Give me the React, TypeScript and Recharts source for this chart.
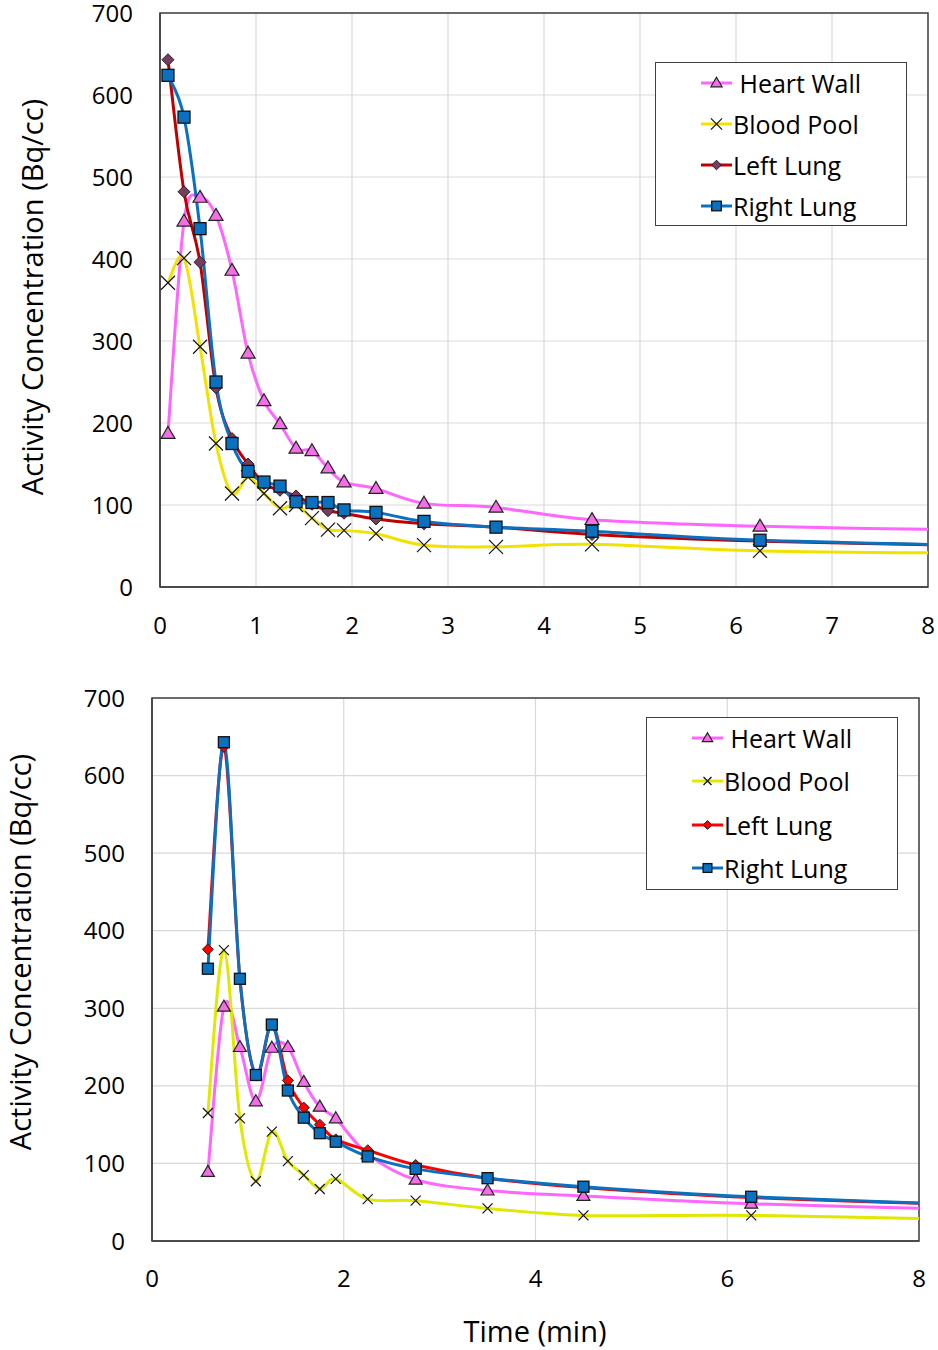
import React from "react";
import {
  LineChart,
  Line,
  XAxis,
  YAxis,
  CartesianGrid,
  ReferenceArea,
  Legend,
} from "recharts";

// ── data: frame mid-times (min) and activity (Bq/cc) ─────────────────────────
const TOP_TIME = [0.083, 0.25, 0.417, 0.583, 0.75, 0.917, 1.083, 1.25, 1.417, 1.583, 1.75, 1.917, 2.25, 2.75, 3.5, 4.5, 6.25, 8.75];
const TOP_HEART_WALL = [187, 446, 475, 453, 386, 285, 227, 199, 169, 166, 145, 128, 120, 102, 97, 82, 74, 69];
const TOP_BLOOD_POOL = [371, 401, 293, 175, 114, 134, 114, 96, 100, 84, 70, 69, 65, 51, 49, 52, 44, 41];
const TOP_LEFT_LUNG = [643, 482, 396, 243, 181, 150, 126, 118, 111, 101, 93, 90, 83, 77, 73, 64, 56, 50];
const TOP_RIGHT_LUNG = [624, 573, 437, 250, 175, 141, 128, 123, 104, 103, 103, 94, 91, 80, 73, 68, 57, 50];

const BOTTOM_TIME = [0.583, 0.75, 0.917, 1.083, 1.25, 1.417, 1.583, 1.75, 1.917, 2.25, 2.75, 3.5, 4.5, 6.25, 8.75];
const BOTTOM_HEART_WALL = [89, 302, 250, 180, 249, 250, 205, 173, 158, 112, 79, 65, 58, 48, 40];
const BOTTOM_BLOOD_POOL = [165, 375, 158, 77, 141, 103, 85, 67, 80, 54, 52, 42, 33, 33, 27];
const BOTTOM_LEFT_LUNG = [376, 637, 338, 214, 279, 207, 172, 150, 131, 117, 98, 81, 69, 56, 46];
const BOTTOM_RIGHT_LUNG = [351, 643, 338, 214, 279, 194, 159, 139, 128, 109, 93, 81, 70, 57, 46];

const SERIES_NAMES = ["Heart Wall", "Blood Pool", "Left Lung", "Right Lung"];
const Y_TICKS = [0, 100, 200, 300, 400, 500, 600, 700];
const TOP_X_TICKS = [0, 1, 2, 3, 4, 5, 6, 7, 8];
const BOTTOM_X_TICKS = [0, 2, 4, 6, 8];

const FONT = "'Open Sans', 'Noto Sans', sans-serif";
const X_MAX = 8;

type MarkerKind = "triangle" | "cross" | "diamond" | "square";

interface SeriesStyle {
  key: string;
  name: string;
  stroke: string;
  marker: MarkerKind;
  markerFill: string;
  markerSize: number;
}

const TOP_STYLES: SeriesStyle[] = [
  { key: "hw", name: SERIES_NAMES[0], stroke: "#ff66ff", marker: "triangle", markerFill: "#f46ee6", markerSize: 7 },
  { key: "bp", name: SERIES_NAMES[1], stroke: "#f2e200", marker: "cross", markerFill: "#000", markerSize: 7 },
  { key: "ll", name: SERIES_NAMES[2], stroke: "#c00000", marker: "diamond", markerFill: "#7b3b5f", markerSize: 6 },
  { key: "rl", name: SERIES_NAMES[3], stroke: "#0a70bf", marker: "square", markerFill: "#0a70c0", markerSize: 6 },
];

const BOTTOM_STYLES: SeriesStyle[] = [
  { key: "hw", name: SERIES_NAMES[0], stroke: "#ff66ff", marker: "triangle", markerFill: "#f46ee6", markerSize: 6.5 },
  { key: "bp", name: SERIES_NAMES[1], stroke: "#e0e800", marker: "cross", markerFill: "#000", markerSize: 5 },
  { key: "ll", name: SERIES_NAMES[2], stroke: "#ff0000", marker: "diamond", markerFill: "#ff0000", markerSize: 5.5 },
  { key: "rl", name: SERIES_NAMES[3], stroke: "#0a70bf", marker: "square", markerFill: "#0a70c0", markerSize: 5.5 },
];

function buildRows(time: number[], hw: number[], bp: number[], ll: number[], rl: number[]) {
  return time.map((t, i) => ({ t, hw: hw[i], bp: bp[i], ll: ll[i], rl: rl[i] }));
}

const TOP_ROWS = buildRows(TOP_TIME, TOP_HEART_WALL, TOP_BLOOD_POOL, TOP_LEFT_LUNG, TOP_RIGHT_LUNG);
const BOTTOM_ROWS = buildRows(BOTTOM_TIME, BOTTOM_HEART_WALL, BOTTOM_BLOOD_POOL, BOTTOM_LEFT_LUNG, BOTTOM_RIGHT_LUNG);

/** Excel-style smoothed line: Catmull-Rom through every point */
function excelCurve(context: any) {
  let pts: number[][] = [];
  return {
    areaStart() {},
    areaEnd() {},
    lineStart() {
      pts = [];
    },
    point(x: number, y: number) {
      pts.push([+x, +y]);
    },
    lineEnd() {
      const n = pts.length;
      if (!n) return;
      context.moveTo(pts[0][0], pts[0][1]);
      for (let i = 0; i < n - 1; i++) {
        const p0 = pts[Math.max(0, i - 1)];
        const p1 = pts[i];
        const p2 = pts[i + 1];
        const p3 = pts[Math.min(n - 1, i + 2)];
        context.bezierCurveTo(
          p1[0] + (p2[0] - p0[0]) / 6,
          p1[1] + (p2[1] - p0[1]) / 6,
          p2[0] - (p3[0] - p1[0]) / 6,
          p2[1] - (p3[1] - p1[1]) / 6,
          p2[0],
          p2[1]
        );
      }
    },
  };
}

function Marker({ kind, x, y, s, fill }: { kind: MarkerKind; x: number; y: number; s: number; fill: string }) {
  if (kind === "triangle") {
    const h = s * 1.7;
    return (
      <polygon
        points={`${x},${y - h * 0.6} ${x + s},${y + h * 0.4} ${x - s},${y + h * 0.4}`}
        fill={fill}
        stroke="#222"
        strokeWidth={1.2}
      />
    );
  }
  if (kind === "cross") {
    return (
      <g stroke="#111" strokeWidth={1.2}>
        <line x1={x - s} y1={y - s} x2={x + s} y2={y + s} />
        <line x1={x - s} y1={y + s} x2={x + s} y2={y - s} />
      </g>
    );
  }
  if (kind === "diamond") {
    return (
      <polygon
        points={`${x},${y - s} ${x + s},${y} ${x},${y + s} ${x - s},${y}`}
        fill={fill}
        stroke="#222"
        strokeWidth={1}
      />
    );
  }
  return <rect x={x - s} y={y - s} width={s * 2} height={s * 2} fill={fill} stroke="#111" strokeWidth={1.3} />;
}

function makeDot(style: SeriesStyle) {
  return (p: any) => {
    const k = `dot-${style.key}-${p.index}`;
    if (p.cx == null || p.cy == null || p.payload?.t > X_MAX) return <g key={k} />;
    return (
      <g key={k}>
        <Marker kind={style.marker} x={p.cx} y={p.cy} s={style.markerSize} fill={style.markerFill} />
      </g>
    );
  };
}

function LegendBox({ styles, rowGap, height }: { styles: SeriesStyle[]; rowGap: number; height: number }) {
  return (
    <div
      style={{
        width: 252,
        height,
        boxSizing: "border-box",
        border: "1.5px solid #404040",
        background: "#fff",
        position: "relative",
        fontFamily: FONT,
        fontSize: 25,
        color: "#000",
      }}
    >
      {styles.map((s, i) => (
        <div
          key={s.key}
          style={{
            position: "absolute",
            left: 44,
            top: 20 + i * rowGap - 16,
            height: 32,
            display: "flex",
            alignItems: "center",
            whiteSpace: "pre",
          }}
        >
          <svg width={33} height={24} style={{ display: "block" }}>
            <line x1={1} y1={12} x2={32} y2={12} stroke={s.stroke} strokeWidth={3} />
            <Marker kind={s.marker} x={16.5} y={12} s={s.markerSize * 0.8} fill={s.markerFill} />
          </svg>
          <span style={{ lineHeight: "32px" }}>{i === 0 ? " " + s.name : s.name}</span>
        </div>
      ))}
    </div>
  );
}

interface PanelProps {
  rows: any[];
  styles: SeriesStyle[];
  xTicks: number[];
  width: number;
  height: number;
  margin: { top: number; right: number; left: number; bottom: number };
  yAxisWidth: number;
  xAxisHeight: number;
  xTickMargin: number;
  yTitlePos: [number, number];
  xTitlePos?: [number, number];
  legendPos: { left: number; top: number; height: number; rowGap: number };
}

function Panel(props: PanelProps) {
  const { rows, styles, xTicks, margin, yAxisWidth, xAxisHeight, xTickMargin, yTitlePos, xTitlePos, legendPos } = props;
  const tickStyle = { fontFamily: FONT, fontSize: 24, fill: "#000" };
  return (
    <LineChart width={props.width} height={props.height} data={rows} margin={margin}>
      <CartesianGrid stroke="#d9d9d9" strokeWidth={1.2} />
      <XAxis
        type="number"
        dataKey="t"
        domain={[0, X_MAX]}
        ticks={xTicks}
        allowDataOverflow
        height={xAxisHeight}
        tickLine={false}
        tickSize={0}
        tickMargin={xTickMargin}
        axisLine={{ stroke: "#404040", strokeWidth: 1.5 }}
        tick={tickStyle}
        interval={0}
        label={
          xTitlePos
            ? {
                content: () => (
                  <text
                    x={xTitlePos[0]}
                    y={xTitlePos[1]}
                    textAnchor="middle"
                    dominantBaseline="central"
                    fontFamily={FONT}
                    fontSize={29}
                    fill="#000"
                  >
                    Time (min)
                  </text>
                ),
              }
            : undefined
        }
      />
      <YAxis
        type="number"
        domain={[0, 700]}
        ticks={Y_TICKS}
        width={yAxisWidth}
        tickLine={false}
        tickSize={0}
        tickMargin={27}
        axisLine={{ stroke: "#404040", strokeWidth: 1.5 }}
        tick={tickStyle}
        interval={0}
        label={{
          content: () => (
            <text
              x={yTitlePos[0]}
              y={yTitlePos[1]}
              transform={`rotate(-90 ${yTitlePos[0]} ${yTitlePos[1]})`}
              textAnchor="middle"
              dominantBaseline="central"
              fontFamily={FONT}
              fontSize={29}
              fill="#000"
            >
              Activity Concentration (Bq/cc)
            </text>
          ),
        }}
      />
      <ReferenceArea x1={0} x2={X_MAX} y1={0} y2={700} fill="none" fillOpacity={0} stroke="#404040" strokeWidth={1.5} />
      {styles.map((s) => (
        <Line
          key={s.key}
          dataKey={s.key}
          name={s.name}
          type={excelCurve as any}
          stroke={s.stroke}
          strokeWidth={3}
          dot={makeDot(s)}
          activeDot={false}
          isAnimationActive={false}
        />
      ))}
      <Legend
        layout="horizontal"
        verticalAlign="middle"
        align="center"
        wrapperStyle={{ left: legendPos.left, top: legendPos.top, width: 252 }}
        content={() => <LegendBox styles={styles} rowGap={legendPos.rowGap} height={legendPos.height} />}
      />
    </LineChart>
  );
}

export default function App() {
  return (
    <div style={{ position: "absolute", left: 0, top: 0, width: 938, height: 1350, background: "#fff" }}>
      <div style={{ position: "absolute", left: 0, top: 0 }}>
        <Panel
          rows={TOP_ROWS}
          styles={TOP_STYLES}
          xTicks={TOP_X_TICKS}
          width={938}
          height={660}
          margin={{ top: 13, right: 10, left: 0, bottom: 0 }}
          yAxisWidth={160}
          xAxisHeight={73}
          xTickMargin={30}
          yTitlePos={[31, 297]}
          legendPos={{ left: 655, top: 62, height: 164, rowGap: 41 }}
        />
      </div>
      <div style={{ position: "absolute", left: 0, top: 670 }}>
        <Panel
          rows={BOTTOM_ROWS}
          styles={BOTTOM_STYLES}
          xTicks={BOTTOM_X_TICKS}
          width={938}
          height={680}
          margin={{ top: 28, right: 19, left: 0, bottom: 0 }}
          yAxisWidth={152}
          xAxisHeight={109}
          xTickMargin={29}
          yTitlePos={[19, 282]}
          xTitlePos={[535, 660]}
          legendPos={{ left: 646, top: 47, height: 173, rowGap: 43.3 }}
        />
      </div>
    </div>
  );
}
